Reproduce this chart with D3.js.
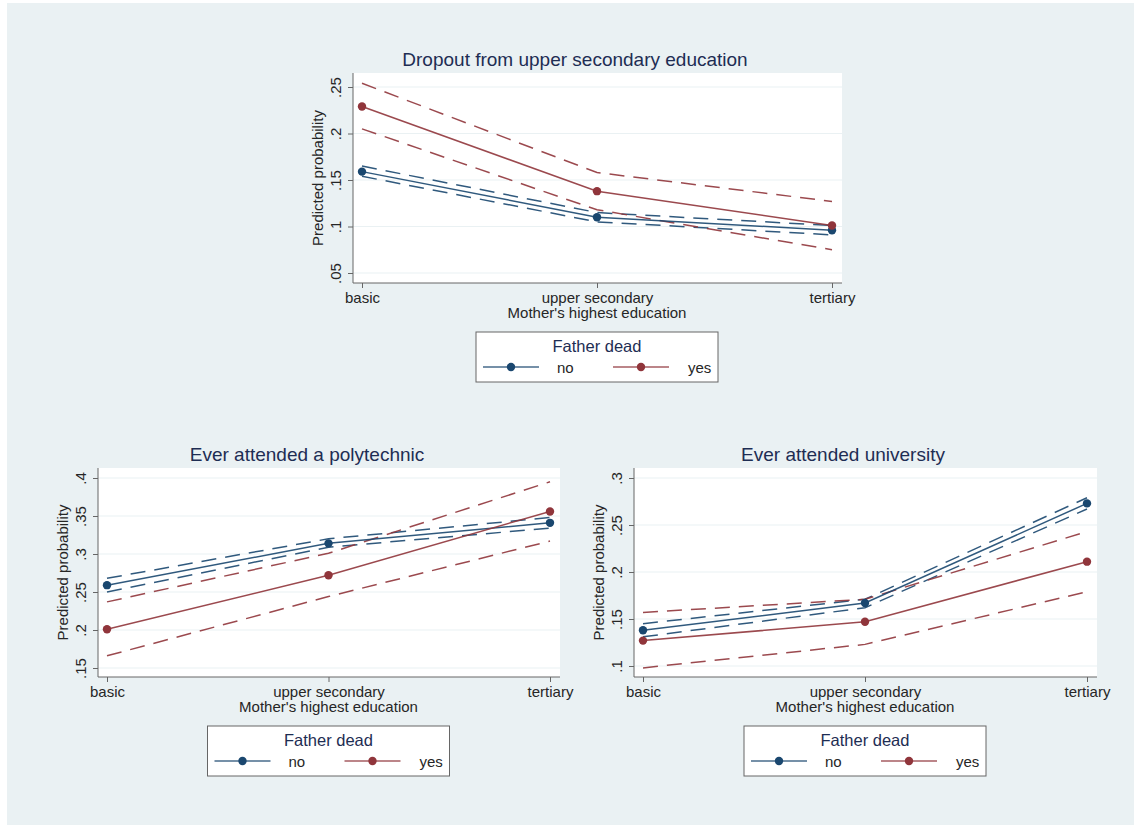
<!DOCTYPE html>
<html>
<head>
<meta charset="utf-8">
<script src="https://cdn.jsdelivr.net/npm/d3@7"></script>
<style>
  body { margin: 0; background: #fff; }
  text { font-family: "Liberation Sans", Arial, sans-serif; }
</style>
</head>
<body>
<div id="chart"></div>
<script>
// categories on the x axis
const levels = ["basic", "upper secondary", "tertiary"];

// Dropout from upper secondary education
const dropNo = [0.159, 0.110, 0.096];
const dropNoLo = [0.154, 0.105, 0.091];
const dropNoHi = [0.165, 0.115, 0.101];
const dropYes = [0.229, 0.138, 0.101];
const dropYesLo = [0.205, 0.118, 0.075];
const dropYesHi = [0.254, 0.158, 0.127];
const dropTicks = [0.05, 0.1, 0.15, 0.2, 0.25];

// Ever attended a polytechnic
const polyNo = [0.259, 0.314, 0.341];
const polyNoLo = [0.250, 0.309, 0.334];
const polyNoHi = [0.268, 0.320, 0.348];
const polyYes = [0.201, 0.272, 0.356];
const polyYesLo = [0.166, 0.244, 0.317];
const polyYesHi = [0.237, 0.301, 0.395];
const polyTicks = [0.15, 0.2, 0.25, 0.3, 0.35, 0.4];

// Ever attended university
const uniNo = [0.138, 0.167, 0.273];
const uniNoLo = [0.131, 0.162, 0.267];
const uniNoHi = [0.145, 0.171, 0.279];
const uniYes = [0.127, 0.147, 0.211];
const uniYesLo = [0.098, 0.123, 0.179];
const uniYesHi = [0.157, 0.171, 0.243];
const uniTicks = [0.1, 0.15, 0.2, 0.25, 0.3];

const legendTitle = "Father dead";
const legendLabels = ["no", "yes"];

const navy = "#1a476f", maroon = "#90353b";
const titleColor = "#1e2d53";
const textColor = "#262626";
const bg = "#eaf1f3";

const svg = d3.select("#chart")
  .append("svg")
  .attr("width", 1134)
  .attr("height", 825);

svg.append("rect")
  .attr("x", 7).attr("y", 3)
  .attr("width", 1127).attr("height", 822)
  .attr("fill", bg);

// stata style labels: .25 instead of 0.25
const stataFmt = v => String(+v.toFixed(2)).replace(/^0\./, ".");

function drawPanel(p) {
  const g = svg.append("g");

  g.append("rect")
    .attr("x", p.left).attr("y", p.top)
    .attr("width", p.right - p.left).attr("height", p.bottom - p.top)
    .attr("fill", "white");

  const x = d3.scalePoint().domain(levels).range(p.xRange);
  const y = d3.scaleLinear().domain(d3.extent(p.ticks)).range(p.yRange);

  // grid
  g.selectAll(".grid")
    .data(p.ticks)
    .enter().append("line")
    .attr("x1", p.left).attr("x2", p.right)
    .attr("y1", d => y(d)).attr("y2", d => y(d))
    .attr("stroke", bg).attr("stroke-width", 1.2);

  // y axis
  const yAxis = g.append("g")
    .attr("transform", `translate(${p.left},0)`)
    .call(d3.axisLeft(y).tickValues(p.ticks).tickFormat(stataFmt).tickSize(5).tickPadding(4));
  yAxis.select(".domain").attr("d", `M0,${p.top}V${p.bottom}`).attr("stroke", "#666");
  yAxis.selectAll(".tick line").attr("stroke", "#666");
  yAxis.selectAll(".tick text")
    .attr("x", null).attr("dy", null)
    .attr("transform", "translate(-12,0) rotate(-90)")
    .attr("text-anchor", "middle")
    .attr("font-size", 15)
    .attr("fill", textColor);

  // x axis
  const xAxis = g.append("g")
    .attr("transform", `translate(0,${p.bottom})`)
    .call(d3.axisBottom(x).tickSize(5).tickPadding(4));
  xAxis.select(".domain").attr("d", `M${p.left},0H${p.right}`).attr("stroke", "#666");
  xAxis.selectAll(".tick line").attr("stroke", "#666");
  xAxis.selectAll(".tick text")
    .attr("font-size", 15)
    .attr("fill", textColor);

  // axis titles
  g.append("text")
    .attr("transform", `translate(${p.left - 30},${(p.top + p.bottom) / 2}) rotate(-90)`)
    .attr("text-anchor", "middle")
    .attr("font-size", 15)
    .attr("fill", textColor)
    .text("Predicted probability");
  g.append("text")
    .attr("x", (p.xRange[0] + p.xRange[1]) / 2)
    .attr("y", p.bottom + 35)
    .attr("text-anchor", "middle")
    .attr("font-size", 15)
    .attr("fill", textColor)
    .text("Mother's highest education");

  // title
  g.append("text")
    .attr("x", p.titleX).attr("y", p.top - 7)
    .attr("text-anchor", "middle")
    .attr("font-size", 19)
    .attr("fill", titleColor)
    .text(p.title);

  const line = d3.line()
    .x((d, i) => x(levels[i]))
    .y(d => y(d));

  const series = [
    { mid: p.no, lo: p.noLo, hi: p.noHi, color: navy },
    { mid: p.yes, lo: p.yesLo, hi: p.yesHi, color: maroon }
  ];

  series.forEach(s => {
    [s.lo, s.hi].forEach(ci => {
      g.append("path")
        .datum(ci)
        .attr("fill", "none")
        .attr("stroke", s.color)
        .attr("stroke-width", 1.5)
        .attr("stroke-opacity", 0.9)
        .attr("stroke-dasharray", "15,9")
        .attr("d", line);
    });
  });
  series.forEach(s => {
    g.append("path")
      .datum(s.mid)
      .attr("fill", "none")
      .attr("stroke", s.color)
      .attr("stroke-width", 1.5)
      .attr("stroke-opacity", 0.9)
      .attr("d", line);
    g.selectAll(null)
      .data(s.mid)
      .enter().append("circle")
      .attr("cx", (d, i) => x(levels[i]))
      .attr("cy", d => y(d))
      .attr("r", 4.2)
      .attr("fill", s.color);
  });

  // legend
  const lx = (p.xRange[0] + p.xRange[1]) / 2 - 121;
  const ly = p.bottom + 49;
  const lg = g.append("g").attr("transform", `translate(${lx},${ly})`);
  lg.append("rect")
    .attr("width", 242).attr("height", 50)
    .attr("fill", "white")
    .attr("stroke", "#666").attr("stroke-width", 1);
  lg.append("text")
    .attr("x", 121).attr("y", 20)
    .attr("text-anchor", "middle")
    .attr("font-size", 16.5)
    .attr("fill", titleColor)
    .text(legendTitle);
  [navy, maroon].forEach((c, i) => {
    const ox = i * 130;
    lg.append("line")
      .attr("x1", ox + 7).attr("x2", ox + 63)
      .attr("y1", 35).attr("y2", 35)
      .attr("stroke", c).attr("stroke-width", 1.4).attr("opacity", 0.8);
    lg.append("circle")
      .attr("cx", ox + 35).attr("cy", 35).attr("r", 4.2)
      .attr("fill", c);
    lg.append("text")
      .attr("x", ox + (i === 0 ? 81 : 82)).attr("y", 41)
      .attr("font-size", 15)
      .attr("fill", textColor)
      .text(legendLabels[i]);
  });
}

drawPanel({
  title: "Dropout from upper secondary education", titleX: 575,
  left: 353, right: 842, top: 73, bottom: 283,
  xRange: [362, 832], yRange: [273, 87], ticks: dropTicks,
  no: dropNo, noLo: dropNoLo, noHi: dropNoHi,
  yes: dropYes, yesLo: dropYesLo, yesHi: dropYesHi
});

drawPanel({
  title: "Ever attended a polytechnic", titleX: 307,
  left: 98, right: 560, top: 468, bottom: 677,
  xRange: [107, 550], yRange: [668, 478], ticks: polyTicks,
  no: polyNo, noLo: polyNoLo, noHi: polyNoHi,
  yes: polyYes, yesLo: polyYesLo, yesHi: polyYesHi
});

drawPanel({
  title: "Ever attended university", titleX: 843,
  left: 634, right: 1097, top: 468, bottom: 677,
  xRange: [643, 1087], yRange: [666, 478], ticks: uniTicks,
  no: uniNo, noLo: uniNoLo, noHi: uniNoHi,
  yes: uniYes, yesLo: uniYesLo, yesHi: uniYesHi
});
</script>
</body>
</html>
